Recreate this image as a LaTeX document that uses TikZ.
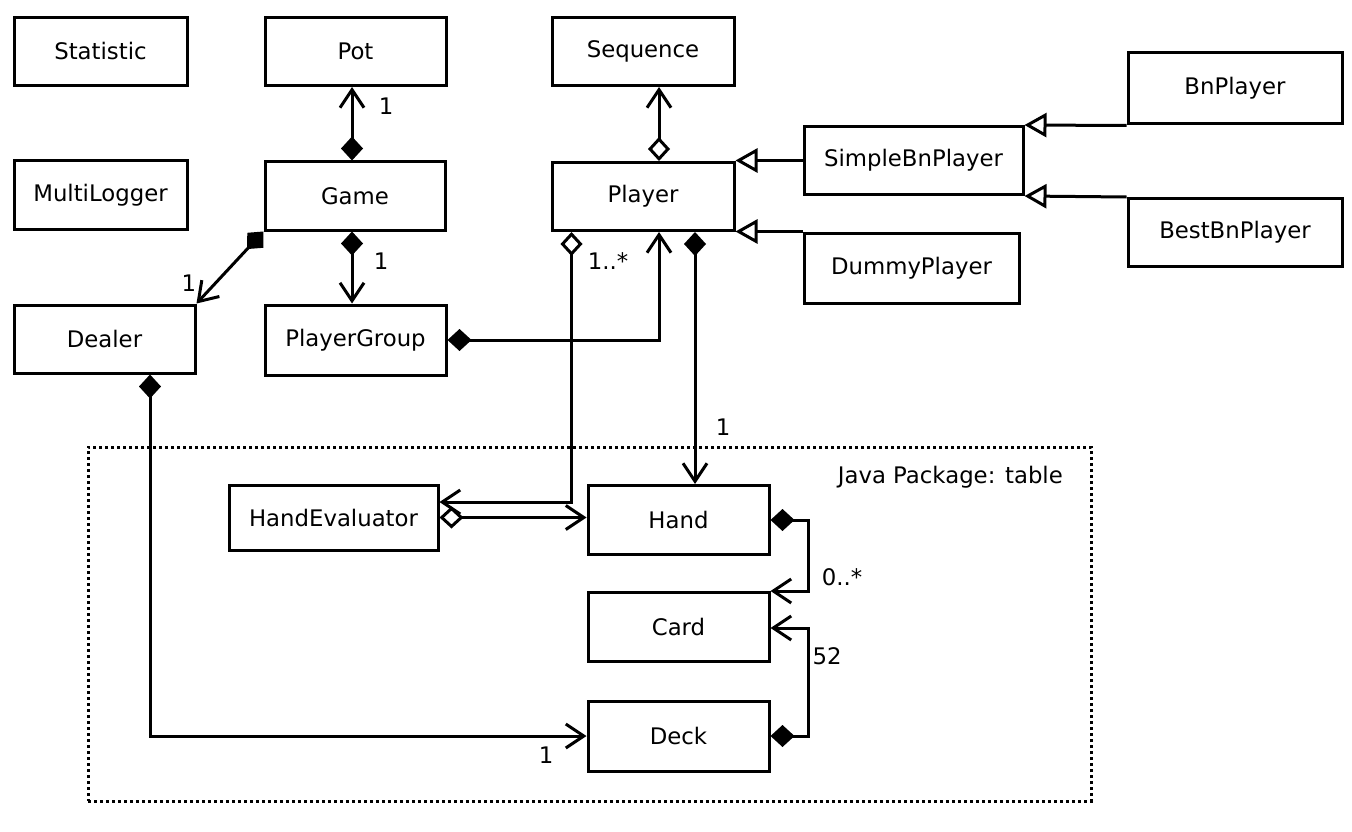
\documentclass[tikz,border=0pt]{standalone}
\usepackage{fontspec}
\setmainfont{DejaVu Sans}
\usetikzlibrary{arrows.meta,calc}
\begin{document}
\begin{tikzpicture}[x=1pt,y=-1pt,
  txt/.style={font=\fontsize{22.8}{27}\selectfont, inner sep=0pt},
  cls/.style={draw, line width=3pt, inner sep=0pt, minimum height=68pt, txt},
  conn/.style={line width=3pt},
  comp/.style={conn, {Diamond[length=24pt,width=22pt]}-{Straight Barb[length=18pt,width=24pt]}},
  aggr/.style={conn, {Diamond[open,length=24pt,width=22pt,fill=white]}-{Straight Barb[length=18pt,width=24pt]}},
  inh/.style={conn, -{Triangle[open,length=22pt,width=24pt,fill=white]}},
  pkgbox/.style={draw, line width=3pt, dash pattern=on 3pt off 3pt, inner sep=0pt}
]
\useasboundingbox (0,0) rectangle (1352,832);

% package
\node[pkgbox, minimum width=1003pt, minimum height=354pt] (pkg) at (589.5,624) {};
\node[txt, anchor=east] (pkglbl) at (1063,477) {Java Package: table};

% classes
\node[cls, minimum width=173pt] (stat) at (100.5,51.5) {Statistic};
\node[cls, minimum width=181pt] (pot) at (355.5,51.5) {Pot};
\node[cls, minimum width=182pt] (seq) at (643,51.5) {Sequence};
\node[cls, minimum width=173pt] (mlog) at (100.5,195) {MultiLogger};
\node[cls, minimum width=180pt] (game) at (355,196) {Game};
\node[cls, minimum width=182pt] (player) at (643,196.5) {Player};
\node[cls, minimum width=219pt] (sbp) at (913.5,160.5) {SimpleBnPlayer};
\node[cls, minimum width=214pt, minimum height=71pt] (bn) at (1235,88.5) {BnPlayer};
\node[cls, minimum width=214pt] (best) at (1235,232.5) {BestBnPlayer};
\node[cls, minimum width=215pt, minimum height=70pt] (dummy) at (911.5,268) {DummyPlayer};
\node[cls, minimum width=181pt] (dealer) at (104.5,339) {Dealer};
\node[cls, minimum width=181pt, minimum height=70pt] (pg) at (355.5,340) {PlayerGroup};
\node[cls, minimum width=209pt, minimum height=65pt] (he) at (333.5,517.5) {HandEvaluator};
\node[cls, minimum width=181pt, minimum height=69pt] (hand) at (678.5,520) {Hand};
\node[cls, minimum width=181pt, minimum height=69pt] (card) at (678.5,627) {Card};
\node[cls, minimum width=181pt, minimum height=70pt] (deck) at (678.5,736) {Deck};

% connectors
\draw[comp] ($(game.north)+(-3,0)$) -- ($(pot.south)+(-3.5,0)$);
\draw[comp] (game.south west) -- (dealer.north east);
\draw[comp] ($(game.south)+(-3,0)$) -- ($(pg.north)+(-3.5,0)$);
\draw[comp] (pg.east) -| ($(player.south)+(16,0)$);
\draw[aggr] ($(player.north)+(16,0)$) -- ($(seq.south)+(16,0)$);
\draw[inh] (sbp.west) -- (sbp.west -| player.east);
\draw[inh] (dummy.north west) -- (dummy.north west -| player.east);
\draw[inh] (bn.south west) -- (sbp.north east);
\draw[inh] (best.north west) -- (sbp.south east);
\draw[aggr] ($(player.south west)+(21,0)$) |- ($(he.east)+(0,-15.5)$);
\draw[comp] ($(player.south)+(52,0)$) -- ($(hand.north)+(16.5,0)$);
\draw[aggr] (he.east) -- (he.east -| hand.west);
\draw[comp] (hand.east) -- ++(38,0) |- (card.north east);
\draw[comp] (deck.east) -- ++(38,0) |- ($(card.east)+(0,1)$);
\draw[comp] ($(dealer.south)+(45.5,0)$) |- (deck.west);

% multiplicities
\node[txt] (m1) at (386,106) {1};
\node[txt] (m2) at (189,283) {1};
\node[txt] (m3) at (381,261) {1};
\node[txt] (m4) at (608,261) {1..*};
\node[txt] (m5) at (723,427) {1};
\node[txt] (m6) at (842,577) {0..*};
\node[txt] (m7) at (827,656) {52};
\node[txt] (m8) at (546,755) {1};
\end{tikzpicture}
\end{document}
